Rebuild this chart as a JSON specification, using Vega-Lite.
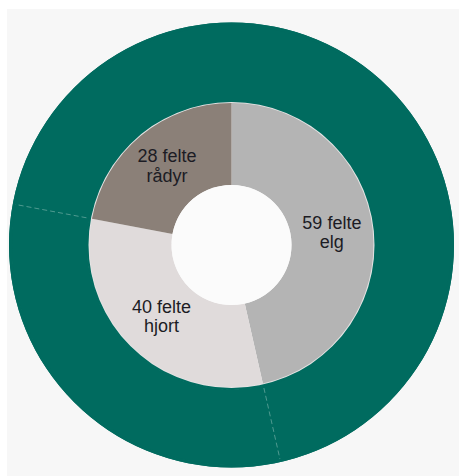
{
  "$schema": "https://vega.github.io/schema/vega-lite/v6.json",
  "width": 452,
  "height": 467,
  "autosize": {"type": "none"},
  "padding": {"left": 7, "top": 9, "right": 0, "bottom": 0},
  "background": "white",
  "view": {"fill": "#f7f7f7", "stroke": null},
  "data": {"values": [
    {"ord": 1, "art": "elg", "n": 59, "label": "59 felte\nelg"},
    {"ord": 2, "art": "hjort", "n": 40, "label": "40 felte\nhjort"},
    {"ord": 3, "art": "rådyr", "n": 28, "label": "28 felte\nrådyr"}
  ]},
  "layer": [
    {
      "data": {"values": [{"k": 1}]},
      "mark": {"type": "arc", "theta": 0, "theta2": 6.2832, "innerRadius": 142, "outerRadius": 222.5, "fill": "#006b5f", "xOffset": -1.5, "yOffset": 2.5},
      "encoding": {}
    },
    {
      "transform": [
        {"stack": "n", "groupby": [], "sort": [{"field": "ord"}], "as": ["t0", "t1"]},
        {"filter": "datum.art === 'hjort'"}
      ],
      "mark": {"type": "arc", "innerRadius": 144, "outerRadius": 220.5, "fillOpacity": 0, "stroke": "#4f9a90", "strokeWidth": 1, "strokeDash": [5, 3], "xOffset": -1.5, "yOffset": 2.5},
      "encoding": {
        "theta": {"field": "t0", "type": "quantitative", "scale": {"domain": [0, 127]}},
        "theta2": {"field": "t1"}
      }
    },
    {
      "data": {"values": [{"k": 1}]},
      "mark": {"type": "arc", "theta": 0, "theta2": 6.2832, "innerRadius": 219.5, "outerRadius": 222.5, "fill": "#006b5f", "xOffset": -1.5, "yOffset": 2.5},
      "encoding": {}
    },
    {
      "data": {"values": [{"k": 1}]},
      "mark": {"type": "arc", "theta": 0, "theta2": 6.2832, "innerRadius": 142, "outerRadius": 145, "fill": "#006b5f", "xOffset": -1.5, "yOffset": 2.5},
      "encoding": {}
    },
    {
      "data": {"values": [{"k": 1}]},
      "mark": {"type": "arc", "theta": 0, "theta2": 6.2832, "innerRadius": 141, "outerRadius": 143, "fill": "#e4e4e4", "xOffset": -1.5, "yOffset": 2.5},
      "encoding": {}
    },
    {
      "mark": {"type": "arc", "innerRadius": 60, "outerRadius": 142, "xOffset": -1.5, "yOffset": 2.5},
      "encoding": {
        "theta": {"field": "n", "type": "quantitative", "stack": true, "scale": {"domain": [0, 127]}},
        "order": {"field": "ord", "type": "quantitative"},
        "color": {
          "field": "art",
          "type": "nominal",
          "scale": {"domain": ["elg", "hjort", "rådyr"], "range": ["#b4b4b4", "#e0dbdb", "#8b8078"]},
          "legend": null
        }
      }
    },
    {
      "data": {"values": [{"k": 1}]},
      "mark": {"type": "arc", "theta": 0, "theta2": 6.2832, "innerRadius": 0, "outerRadius": 60, "fill": "#fbfbfb", "xOffset": -1.5, "yOffset": 2.5},
      "encoding": {}
    },
    {
      "mark": {"type": "text", "radius": 101, "font": "Liberation Sans", "fontSize": 18, "fill": "#1c1c24", "lineBreak": "\n", "lineHeight": 19.5, "align": "center", "baseline": "middle", "dy": -10, "xOffset": -1.5, "yOffset": 2.5},
      "encoding": {
        "theta": {"field": "n", "type": "quantitative", "stack": true, "scale": {"domain": [0, 127]}},
        "order": {"field": "ord", "type": "quantitative"},
        "text": {"field": "label", "type": "nominal"}
      }
    }
  ]
}
